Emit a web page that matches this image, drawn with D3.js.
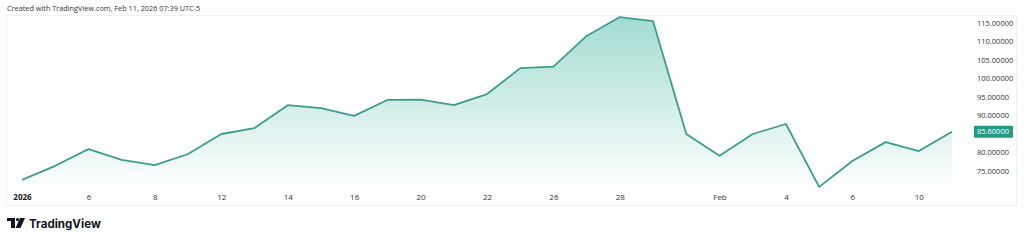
<!DOCTYPE html>
<html>
<head>
<meta charset="utf-8">
<script src="https://cdn.jsdelivr.net/npm/d3@7/dist/d3.min.js"></script>
<style>
  html, body { margin: 0; padding: 0; background: #fff; }
  svg { display: block; font-family: "Open Sans", "DejaVu Sans", sans-serif; }
</style>
</head>
<body>
<svg id="chart" width="1024" height="242"></svg>
<script>
// trading days, Jan 2 .. Feb 11 2026
var dates = ["01-02","01-05","01-06","01-07","01-08","01-09","01-12","01-13","01-14","01-15",
             "01-16","01-19","01-20","01-21","01-22","01-23","01-26","01-27","01-28","01-29",
             "01-30","02-02","02-03","02-04","02-05","02-06","02-09","02-10","02-11"];
var closes = [72.6, 76.4, 80.9, 78.0, 76.6, 79.6, 85.0, 86.6, 92.8, 92.0,
              89.9, 94.2, 94.3, 92.8, 95.8, 102.8, 103.2, 111.5, 116.6, 115.5,
              85.0, 79.1, 85.0, 87.7, 70.7, 77.7, 82.8, 80.4, 85.6];
var timeTicks = ["01-02","01-06","01-08","01-12","01-14","01-16","01-20","01-22","01-26","01-28","02-02","02-04","02-06","02-10"];
var timeLabels = ["2026","6","8","12","14","16","20","22","26","28","Feb","4","6","10"];
// 85 is hidden behind the last-price label
var priceTicks = [75, 80, 90, 95, 100, 105, 110, 115];
var lastPrice = 85.6;

var svg = d3.select("#chart");
var lineColor = "#3c9d8e";

var x = d3.scalePoint().domain(dates).range([22, 952]);
var y = d3.scaleLinear().domain([75, 115]).range([171, 23]);

// frame
svg.append("rect")
  .attr("x", 6.5).attr("y", 15.5).attr("width", 1010).attr("height", 190)
  .attr("fill", "none").attr("stroke", "#f0f0f0");

svg.append("text")
  .attr("x", 7).attr("y", 11)
  .attr("font-size", "7.3px").attr("fill", "#333")
  .text("Created with TradingView.com, Feb 11, 2026 07:39 UTC-5");

var defs = svg.append("defs");
var grad = defs.append("linearGradient").attr("id", "fillGrad")
  .attr("x1", 0).attr("x2", 0)
  .attr("gradientUnits", "userSpaceOnUse")
  .attr("y1", 15).attr("y2", 190);
grad.append("stop").attr("offset", "0%").attr("stop-color", "#22a98f").attr("stop-opacity", 0.42);
grad.append("stop").attr("offset", "100%").attr("stop-color", "#22a98f").attr("stop-opacity", 0.0);

var area = d3.area()
  .x(function(d, i) { return x(dates[i]); })
  .y0(190)
  .y1(function(d) { return y(d); });

var line = d3.line()
  .x(function(d, i) { return x(dates[i]); })
  .y(function(d) { return y(d); });

svg.append("path").datum(closes)
  .attr("d", area).attr("fill", "url(#fillGrad)");

svg.append("path").datum(closes)
  .attr("d", line).attr("fill", "none")
  .attr("stroke", lineColor).attr("stroke-width", 1.8)
  .attr("stroke-linejoin", "round");

// price axis
var yAxis = d3.axisRight(y).tickValues(priceTicks).tickSize(0)
  .tickFormat(function(d) { return d.toFixed(5); });
var yg = svg.append("g").attr("transform", "translate(974,0)").call(yAxis);
yg.select(".domain").remove();
yg.selectAll("text").attr("x", 3).attr("font-size", "7.5px").attr("fill", "#333")
  .attr("font-family", "\"Open Sans\", \"DejaVu Sans\", sans-serif");

// last price label
var ly = y(lastPrice);
svg.append("rect")
  .attr("x", 974).attr("y", ly - 6).attr("width", 39).attr("height", 12)
  .attr("fill", "#229a88").attr("rx", 1);
svg.append("text")
  .attr("x", 977).attr("y", ly + 2.7)
  .attr("font-size", "7.5px").attr("fill", "#fff")
  .text(lastPrice.toFixed(5));

// time axis
var xAxis = d3.axisBottom(x).tickValues(timeTicks).tickSize(0)
  .tickFormat(function(d) { return timeLabels[timeTicks.indexOf(d)]; });
var xg = svg.append("g").attr("transform", "translate(0,190)").call(xAxis);
xg.select(".domain").remove();
xg.selectAll("text").attr("font-size", "8px").attr("fill", "#333").attr("dy", "0.9em")
  .attr("font-family", "\"Open Sans\", \"DejaVu Sans\", sans-serif");
xg.selectAll("text").filter(function(d) { return d === "01-02"; })
  .attr("font-weight", "bold").attr("fill", "#222");

// logo
var logo = svg.append("g").attr("transform", "translate(7,218)");
logo.append("path").attr("d", "M0,0 H8 V10 H4 V3 H0 Z").attr("fill", "#131722");
logo.append("circle").attr("cx", 10.5).attr("cy", 1.6).attr("r", 1.6).attr("fill", "#131722");
logo.append("path").attr("d", "M13,0 H18 L13.5,10 H8.5 Z").attr("fill", "#131722");
svg.append("text").attr("x", 29).attr("y", 228)
  .attr("font-size", "11.6px").attr("font-weight", "bold").attr("fill", "#131722")
  .attr("font-family", "Inter, \"Open Sans\", sans-serif")
  .text("TradingView");
</script>
</body>
</html>
